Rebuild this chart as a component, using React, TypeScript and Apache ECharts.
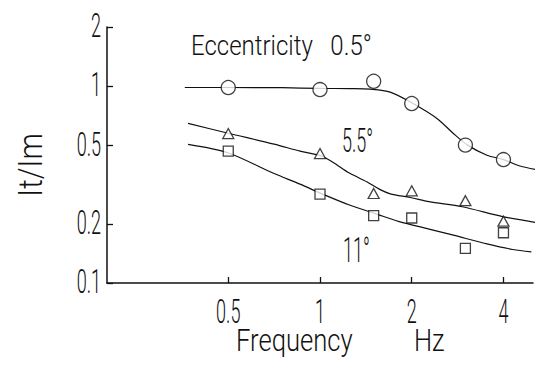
import React, { useEffect, useRef } from "react";
import * as echarts from "echarts";

// Axis ticks and their labels
const frequencyTicks = [0.5, 1, 2, 4];
const frequencyTickLabels = ["0.5", "1", "2", "4"];
const ratioTicks = [0.1, 0.2, 0.5, 1, 2];
const ratioTickLabels = ["0.1", "0.2", "0.5", "1", "2"];

// Measured points (frequency in Hz, It/Im ratio)
const measuredFrequency = [0.5, 1, 1.5, 2, 3, 4];
const ratioEcc05 = [0.985, 0.962, 1.06, 0.817, 0.502, 0.424];
const ratioEcc55 = [0.575, 0.455, 0.285, 0.294, 0.262, 0.206];
const ratioEcc11 = [0.468, 0.283, 0.22, 0.214, 0.15, 0.18];

// Fitted curves
const fitFreqEcc05 = [0.36, 0.5, 0.75, 1, 1.25, 1.46, 1.7, 2.02, 2.42, 2.74, 3.05, 3.53, 4, 4.53, 5.55];
const fitEcc05 = [0.985, 0.985, 0.983, 0.975, 0.972, 0.966, 0.934, 0.817, 0.686, 0.575, 0.502, 0.446, 0.424, 0.393, 0.368];
const fitFreqEcc55 = [0.369, 0.5, 0.707, 0.86, 1.015, 1.105, 1.249, 1.424, 1.57, 1.7, 1.98, 2.28, 2.93, 4, 5.34];
const fitEcc55 = [0.647, 0.577, 0.508, 0.468, 0.441, 0.41, 0.362, 0.327, 0.299, 0.284, 0.272, 0.259, 0.244, 0.217, 0.201];
const fitFreqEcc11 = [0.369, 0.5, 0.707, 0.86, 1.02, 1.249, 1.51, 1.82, 2.28, 2.74, 3.53, 4.29, 4.94];
const fitEcc11 = [0.506, 0.458, 0.36, 0.318, 0.283, 0.249, 0.226, 0.205, 0.188, 0.175, 0.158, 0.148, 0.144];

const INK = "#111111";
const FONT = "Roboto, 'Liberation Sans', sans-serif";

const zip = (xs: number[], ys: number[]) => xs.map((x, i) => [x, ys[i]]);

export default function App() {
  const ref = useRef<HTMLDivElement>(null);

  useEffect(() => {
    const el = ref.current;
    if (!el) return;
    const chart = echarts.init(el, null, { renderer: "svg" });

    const curve = (name: string, data: number[][]) => ({
      name,
      type: "line",
      data,
      smooth: 0.3,
      symbol: "none",
      clip: false,
      lineStyle: { color: INK, width: 1.2 },
      z: 2,
    });
    const points = (name: string, data: number[][], symbol: string, size: any) => ({
      name,
      type: "scatter",
      data,
      symbol,
      symbolSize: size,
      itemStyle: { color: "#ffffff", borderColor: INK, borderWidth: 1.3 },
      z: 3,
    });

    const option: any = {
      animation: false,
      backgroundColor: "#ffffff",
      grid: { left: 107, right: 15, top: 27, bottom: 86, containLabel: false },
      xAxis: {
        type: "log",
        logBase: 10,
        min: 0.2,
        max: 5,
        axisLine: { show: true, onZero: false, lineStyle: { color: INK, width: 1.5 } },
        axisTick: { show: true, inside: true, length: 6, customValues: frequencyTicks, lineStyle: { color: INK, width: 1.3 } },
        axisLabel: { show: false },
        splitLine: { show: false },
        minorTick: { show: false },
      },
      yAxis: {
        type: "log",
        logBase: 10,
        min: 0.1,
        max: 2,
        axisLine: { show: true, onZero: false, lineStyle: { color: INK, width: 1.5 } },
        axisTick: { show: true, inside: true, length: 6, customValues: ratioTicks, lineStyle: { color: INK, width: 1.3 } },
        axisLabel: { show: false },
        splitLine: { show: false },
        minorTick: { show: false },
      },
      series: [
        curve("fit 0.5°", zip(fitFreqEcc05, fitEcc05)),
        curve("fit 5.5°", zip(fitFreqEcc55, fitEcc55)),
        curve("fit 11°", zip(fitFreqEcc11, fitEcc11)),
        points("Eccentricity 0.5°", zip(measuredFrequency, ratioEcc05), "circle", 14),
        points("Eccentricity 5.5°", zip(measuredFrequency, ratioEcc55), "triangle", [11, 10]),
        points("Eccentricity 11°", zip(measuredFrequency, ratioEcc11), "rect", 10),
      ],
    };
    chart.setOption(option);

    const text = (
      str: string,
      x: number,
      y: number,
      fontSize: number,
      sx: number,
      sy: number,
      align: string,
      rotation = 0
    ) => ({
      type: "text",
      x,
      y,
      scaleX: sx,
      scaleY: sy,
      rotation,
      silent: true,
      z: 10,
      style: {
        text: str,
        fontSize,
        fontFamily: FONT,
        fontWeight: 300,
        fill: INK,
        align,
        verticalAlign: "middle",
      },
    });

    const yBase = chart.convertToPixel({ yAxisIndex: 0 }, 0.1) as number;
    const xBase = chart.convertToPixel({ xAxisIndex: 0 }, 0.2) as number;
    const graphics: any[] = [];
    frequencyTicks.forEach((v, i) => {
      const px = chart.convertToPixel({ xAxisIndex: 0 }, v) as number;
      graphics.push(text(frequencyTickLabels[i], px, yBase + 28.5, 19, 0.95, 1.7, "center"));
    });
    ratioTicks.forEach((v, i) => {
      const py = chart.convertToPixel({ yAxisIndex: 0 }, v) as number;
      graphics.push(text(ratioTickLabels[i], xBase - 6, py - 1, 19, 0.95, 1.7, "right"));
    });
    graphics.push(text("Eccentricity   0.5°", 191, 45, 24, 1.0, 1.18, "left"));
    graphics.push(text("5.5°", 342, 141, 18, 1.0, 1.8, "left"));
    graphics.push(text("11°", 343, 250.5, 18, 1.0, 1.95, "left"));
    graphics.push(text("Frequency", 236, 341, 25.6, 1.0, 1.21, "left"));
    graphics.push(text("Hz", 414, 341, 25.6, 1.0, 1.21, "left"));
    graphics.push(text("It/Im", 30, 165, 29.7, 1.0, 1.14, "center", Math.PI / 2));
    chart.setOption({ graphic: graphics });

    return () => chart.dispose();
  }, []);

  return (
    <div
      ref={ref}
      style={{ position: "absolute", left: 0, top: 0, width: 548, height: 369 }}
    />
  );
}
